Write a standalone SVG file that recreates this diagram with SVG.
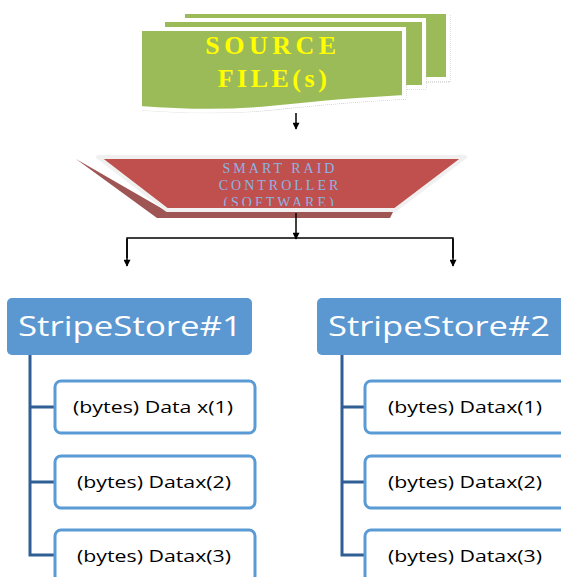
<svg xmlns="http://www.w3.org/2000/svg" width="561" height="577" viewBox="0 0 561 577">
<defs>
<style>
.sheet{fill:#9BBB59;stroke:#ffffff;stroke-width:4}
.sheetsh{fill:none;stroke:#bdbdbd;stroke-width:1;stroke-dasharray:1 1}
.src{font-family:"Liberation Serif",serif;font-weight:bold;font-size:26px;fill:#FFFF00;text-anchor:middle}
.ctl{font-family:"Liberation Serif",serif;font-size:14px;fill:#8DB4E2;text-anchor:middle;letter-spacing:3px}
.conn{stroke:#000;stroke-width:1.5;fill:none}
.head{fill:#000}
.store{fill:#5B97D0}
.storet{font-family:"Open Sans","Liberation Sans",sans-serif;font-size:28px;fill:#fff;text-anchor:middle}
.tree{stroke:#2F5F93;stroke-width:3;fill:none}
.item{fill:#fff;stroke:#5B9BD5;stroke-width:3}
.itemt{font-family:"Open Sans","Liberation Sans",sans-serif;font-size:16px;fill:#000;text-anchor:middle}
</style>
<marker id="arr" viewBox="0 0 10 10" refX="9" refY="5" markerWidth="8" markerHeight="7" orient="auto" markerUnits="userSpaceOnUse">
<path d="M0,0 L10,5 L0,10 Z" class="head"/>
</marker>
<clipPath id="trapclip"><rect x="0" y="150" width="561" height="56"/></clipPath>
</defs>

<g id="source-files">
<rect x="185" y="14" width="265" height="68" class="sheetsh"/>
<rect x="183" y="12" width="265" height="67" class="sheet"/>
<rect x="165" y="22" width="261" height="67" class="sheetsh"/>
<rect x="163" y="20" width="261" height="67" class="sheet"/>
<path d="M142,31 H406 V99 C350,102 310,106 272,110 C230,114 180,113 142,110 Z" class="sheetsh"/>
<path d="M140,29 H404 V97 C348,100 308,104 270,108 C228,112 178,111 140,108 Z" class="sheet"/>
<text x="273" y="54" class="src" letter-spacing="4.5">SOURCE</text>
<text x="274" y="87" class="src" letter-spacing="3.5">FILE(s)</text>
</g>

<g id="controller">
<path d="M76,159 L157,218 L390,218 L393,212 L168,212 Z" fill="#9E5553"/>
<path d="M98,157 H465 L395,210 H167 Z" fill="#C0504D" stroke="#f0f0f0" stroke-width="4" stroke-linejoin="round"/>
<g clip-path="url(#trapclip)">
<text x="280" y="173" class="ctl">SMART RAID</text>
<text x="280" y="190" class="ctl">CONTROLLER</text>
<text x="280" y="207" class="ctl">(SOFTWARE)</text>
</g>
</g>

<g id="connectors">
<line x1="296" y1="113" x2="296" y2="129" class="conn" marker-end="url(#arr)"/>
<line x1="296" y1="213" x2="296" y2="239" class="conn" marker-end="url(#arr)"/>
<polyline points="127,258 127,238 453,238 453,258" class="conn"/>
<line x1="127" y1="239" x2="127" y2="266" class="conn" marker-end="url(#arr)"/>
<line x1="453" y1="239" x2="453" y2="266" class="conn" marker-end="url(#arr)"/>
<path d="M30,355 V555 H55 M30,407 H55 M30,482 H55" class="tree"/>
<path d="M342,355 V555 H365 M342,407 H365 M342,482 H365" class="tree"/>
</g>

<g id="stripestore1">
<rect x="7" y="298" width="245" height="57" rx="5" class="store"/>
<text x="130" y="336" class="storet" textLength="224" lengthAdjust="spacingAndGlyphs">StripeStore#1</text>
</g>
<g id="s1-data1">
<rect x="55" y="381" width="200" height="52" rx="6" class="item"/>
<text x="153" y="413" class="itemt" textLength="160" lengthAdjust="spacingAndGlyphs">(bytes) Data x(1)</text>
</g>
<g id="s1-data2">
<rect x="55" y="456" width="200" height="52" rx="6" class="item"/>
<text x="154" y="488" class="itemt" textLength="154" lengthAdjust="spacingAndGlyphs">(bytes) Datax(2)</text>
</g>
<g id="s1-data3">
<rect x="55" y="530" width="200" height="52" rx="6" class="item"/>
<text x="154" y="562" class="itemt" textLength="154" lengthAdjust="spacingAndGlyphs">(bytes) Datax(3)</text>
</g>

<g id="stripestore2">
<rect x="317" y="298" width="250" height="57" rx="5" class="store"/>
<text x="439" y="336" class="storet" textLength="222" lengthAdjust="spacingAndGlyphs">StripeStore#2</text>
</g>
<g id="s2-data1">
<rect x="365" y="381" width="205" height="52" rx="6" class="item"/>
<text x="465" y="413" class="itemt" textLength="154" lengthAdjust="spacingAndGlyphs">(bytes) Datax(1)</text>
</g>
<g id="s2-data2">
<rect x="365" y="456" width="205" height="52" rx="6" class="item"/>
<text x="465" y="488" class="itemt" textLength="154" lengthAdjust="spacingAndGlyphs">(bytes) Datax(2)</text>
</g>
<g id="s2-data3">
<rect x="365" y="530" width="205" height="52" rx="6" class="item"/>
<text x="465" y="562" class="itemt" textLength="154" lengthAdjust="spacingAndGlyphs">(bytes) Datax(3)</text>
</g>
</svg>
